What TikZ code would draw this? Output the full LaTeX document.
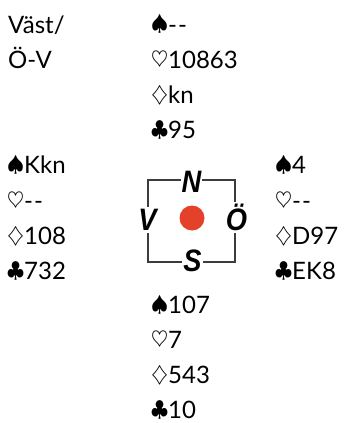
\documentclass[tikz,border=0pt]{standalone}
\usepackage{fontspec}
\setmainfont{Lato}
\newfontfamily\compassfont{Liberation Sans}
\definecolor{dotred}{HTML}{E4412B}
\definecolor{framegrey}{HTML}{3C3C3C}
\newcommand{\SuitS}{\raisebox{2pt}[\height][0pt]{\scalebox{0.88}{$\spadesuit$}}}
\newcommand{\SuitH}{\raisebox{2pt}[\height][0pt]{\scalebox{0.88}{$\heartsuit$}}}
\newcommand{\SuitD}{\raisebox{2pt}[\height][0pt]{\scalebox{0.88}{$\diamondsuit$}}}
\newcommand{\SuitC}{\raisebox{2pt}[\height][0pt]{\scalebox{0.88}{$\clubsuit$}}}
\newcommand{\Void}{{-}\kern1pt{-}}
\newcommand{\Cond}[1]{\scalebox{0.88}[1]{#1}}
\tikzset{
  hand/.style={anchor=base west, inner sep=0pt, font=\fontsize{24}{24}\selectfont},
  dirletter/.style={anchor=base, fill=white, inner xsep=1pt, inner ysep=2pt,
    font=\compassfont\bfseries\itshape\fontsize{31}{31}\selectfont},
  frame/.style={draw=framegrey, line width=2pt},
}
\begin{document}
\begin{tikzpicture}[x=1pt,y=-1pt]
\useasboundingbox (0,0) rectangle (347,423);
% dealer / vulnerability
\node[hand] (dealer) at (8,33) {Väst/};
\node[hand] (vuln) at (8,68.2) {Ö-V};
% North
\node[hand] (ns) at (151,33) {\SuitS\Void};
\node[hand] (nh) at (151,68.2) {\SuitH10863};
\node[hand] (nd) at (151,103.4) {\SuitD kn};
\node[hand] (nc) at (151,138.6) {\SuitC95};
% West
\node[hand] (ws) at (7,173.8) {\SuitS Kkn};
\node[hand] (wh) at (7,209) {\SuitH\Void};
\node[hand] (wd) at (7,244.2) {\SuitD108};
\node[hand] (wc) at (7,279.4) {\SuitC732};
% East
\node[hand] (es) at (275,173.8) {\SuitS4};
\node[hand] (eh) at (275,209) {\SuitH\Void};
\node[hand] (ed) at (275,244.2) {\SuitD D97};
\node[hand] (ec) at (275,279.4) {\SuitC EK8};
% South
\node[hand] (ss) at (151,313.8) {\SuitS107};
\node[hand] (sh) at (151,348.8) {\SuitH7};
\node[hand] (sd) at (151,383.8) {\SuitD543};
\node[hand] (sc) at (151,418.8) {\SuitC10};
% compass
\draw[frame] (148,180) rectangle (235,262);
\fill[dotred] (192,218) circle (12.5);
\node[dirletter] (cn) at (191.5,192.5) {\Cond{N}};
\node[dirletter] (cs) at (192.5,271) {\Cond{S}};
\node[dirletter] (cv) at (147.5,230.5) {\Cond{V}};
\node[dirletter] (co) at (236.5,230.5) {\Cond{Ö}};
\end{tikzpicture}
\end{document}
